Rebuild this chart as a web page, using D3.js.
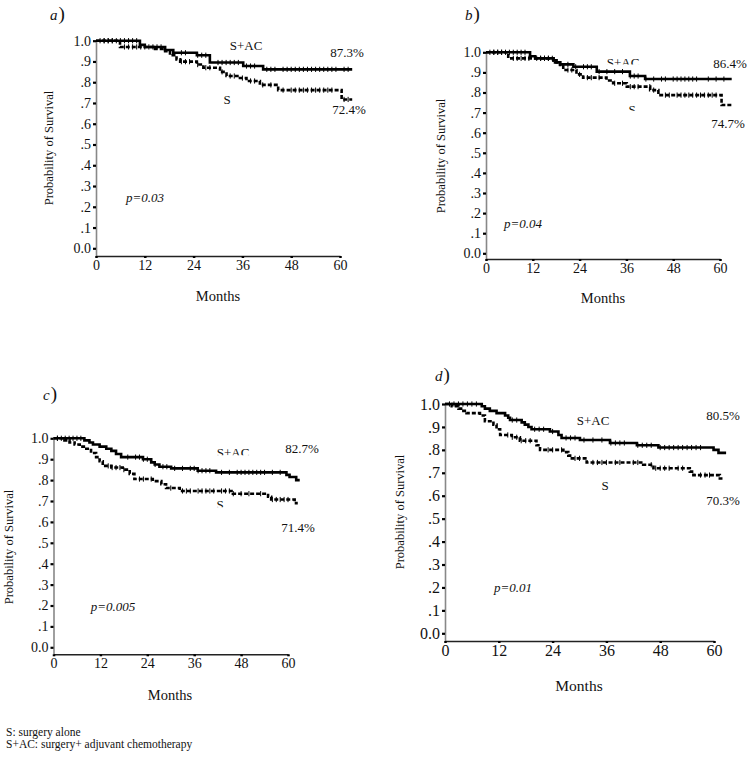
<!DOCTYPE html>
<html>
<head>
<meta http-equiv="Content-Type" content="text/html; charset=utf-8" />
<script src="https://cdn.jsdelivr.net/npm/d3@7"></script>
<title>Survival curves</title>
<style>
  body { margin: 0; background: #fff; }
  svg text { font-family: "Liberation Serif", "Times New Roman", serif !important; fill: #111; }
</style>
</head>
<body>
<svg width="751" height="758" id="mainsvg"></svg>
<script>
// ---- data (months, survival probability); step curves start at [0,1] ----
const monthTicks = [0, 12, 24, 36, 48, 60];
const survTicks = [0, .1, .2, .3, .4, .5, .6, .7, .8, .9, 1];
const survTickLabels = ["0.0", ".1", ".2", ".3", ".4", ".5", ".6", ".7", ".8", ".9", "1.0"];

const aSAC = [[0,1],[10.8,.98],[12,.97],[17,.955],[19,.942],[24.8,.93],[28,.895],[36.2,.878],[41.1,.862],[63,.862]];
const aS   = [[0,1],[5.9,.97],[14.1,.96],[17,.95],[18.2,.93],[19.8,.91],[20.7,.899],[24.8,.885],[26.4,.87],[30.5,.85],[32.1,.83],[35.4,.82],[37,.806],[40.3,.787],[44.8,.762],[60.4,.717],[63,.717]];
const aSACcens = [1,2,3,4,5,6,7,8,9,10,14,15,16,21,22,25,26,27,30,31,32,33,34,35,37,38,39,42,43,44,46,47,48,49,50,51,52,53,54,55,56,57,58,59,61,62];
const aScens   = [2,3,4,7,8,9,10,11,12,13,21,22,23,25,27,28,31,33,34,36,38,39,41,43,46,48,49,50,51,52,53,54,55,56,57,58,61,62];

const bSAC = [[0,1],[11.3,.98],[12.6,.97],[17.3,.96],[18.1,.95],[19,.94],[22.4,.928],[28.4,.904],[36.9,.882],[40.8,.867],[63,.867]];
const bS   = [[0,1],[5.7,.97],[17.3,.96],[17.7,.95],[19,.93],[19.8,.912],[23.2,.89],[24.9,.874],[30.9,.86],[32.6,.846],[36.1,.829],[42.1,.812],[44.2,.787],[60.4,.738],[63,.738]];
const bSACcens = [1,2,3,4,5,6,7,8,9,10,14,15,16,17,21,23,25,26,27,29,31,33,35,37,38,39,41,43,45,46,48,49,50,51,52,53,54,57,59,61];
const bScens   = [2,3,4,7,8,9,10,11,13,14,15,16,21,22,24,26,27,29,33,35,37,38,39,42,43,46,47,49,50,51,52,53,54,55,56,57,58,59];

const cSAC = [[0,1],[7.9,.99],[9.2,.98],[10.1,.97],[11.8,.96],[13.5,.95],[14.8,.94],[16,.925],[17.3,.91],[22.9,.9],[25,.885],[25.9,.875],[27.1,.864],[30.1,.856],[36.9,.845],[41.6,.837],[59.6,.825],[60.4,.815],[62.1,.8],[63,.8]];
const cS   = [[0,1],[2.8,.99],[4.1,.98],[5.4,.97],[6.7,.96],[8.4,.95],[9.6,.93],[10.9,.91],[11.8,.89],[12.6,.868],[14.8,.86],[17.7,.85],[19.5,.83],[20.7,.805],[25.4,.795],[27.6,.78],[28.8,.762],[32.3,.748],[45.9,.735],[54.9,.72],[55.7,.707],[61.7,.69],[62.5,.69]];
const cSACcens = [1,2,3,4,5,6,7,19,21,22,23,24,26,28,29,31,33,35,36,37,38,39,40,43,45,47,48,49,50,51,52,53,54,56,58];
const cScens   = [1,14,15,16,17,18,22,23,25,30,33,34,35,37,38,39,40,41,43,44,45,46,48,50,53,56,57,58,59,60];

const dSAC = [[0,1],[8.2,.99],[8.9,.98],[10,.97],[11.5,.96],[13.4,.95],[14.1,.94],[14.5,.93],[17.1,.92],[17.8,.91],[18.6,.9],[19.3,.89],[23.4,.88],[25.3,.865],[26,.852],[30.1,.843],[36.8,.83],[42.8,.82],[47.6,.81],[59.9,.8],[61,.787],[62.7,.787]];
const dS   = [[0,1],[1.5,.99],[3,.98],[4.1,.97],[4.8,.96],[7.8,.95],[8.9,.925],[10.8,.91],[11.5,.89],[12.3,.865],[14.9,.855],[16.7,.84],[20.4,.82],[21.2,.8],[26.4,.79],[27.5,.775],[28.3,.763],[31.6,.745],[44.2,.735],[46.5,.72],[54.6,.705],[55.4,.69],[61.3,.675],[62.1,.675]];
const dSACcens = [1,2,3,4,5,6,7,15,16,20,21,22,24,27,28,29,31,33,35,37,38,39,40,43,44,45,46,48,49,50,51,52,53,54,55,56,57];
const dScens   = [14,15,16,17,18,19,23,24,26,29,30,33,34,35,36,38,39,42,43,46,47,48,49,50,52,53,57,58,59];

const pValues = ["p=0.03", "p=0.04", "p=0.005", "p=0.01"];
const sacFinal = ["87.3%", "86.4%", "82.7%", "80.5%"];
const sFinal   = ["72.4%", "74.7%", "71.4%", "70.3%"];
const panelLetters = ["a", "b", "c", "d"];

// ---- layout of the four panels ----
const panels = [
  { sac: aSAC, s: aS, sacC: aSACcens, sC: aScens,
    x0: 96, x60: 340, y0: 248.3, y1: 40.7, axisY: 256, tickFs: 14, titleFs: 14.5,
    letter: [50, 20], ytitle: [49, 148], months: [218, 296],
    sacLab: [246, 45], sacPct: [347, 52], sLab: [227, 99], sPct: [349, 109], pLab: [145, 197] },
  { sac: bSAC, s: bS, sacC: bSACcens, sC: bScens,
    x0: 486, x60: 720, y0: 253.3, y1: 52.3, axisY: 259, tickFs: 14, titleFs: 14.5,
    letter: [465, 20], ytitle: [441, 156], months: [603, 298],
    sacLab: [623, 62, 64.5], sacPct: [730, 63], sLab: [632, 109.5, 110.8], sPct: [728, 123], pLab: [523, 223] },
  { sac: cSAC, s: cS, sacC: cSACcens, sC: cScens,
    x0: 53.5, x60: 288, y0: 647.3, y1: 438.3, axisY: 654.3, tickFs: 14, titleFs: 14.5,
    letter: [43, 400], ytitle: [9, 547], months: [170, 695],
    sacLab: [233, 452.5, 455.2], sacPct: [302, 448], sLab: [220, 504.5, 507.2], sPct: [298, 527], pLab: [113, 606] },
  { sac: dSAC, s: dS, sacC: dSACcens, sC: dScens,
    x0: 445, x60: 714, y0: 633.3, y1: 404, axisY: 641, tickFs: 16, titleFs: 15.5,
    letter: [435, 381], ytitle: [400, 512], months: [579, 686],
    sacLab: [593, 420], sacPct: [723, 415], sLab: [605, 485], sPct: [723, 500], pLab: [513, 587] }
];

const svg = d3.select("#mainsvg");
const defs = svg.append("defs");

function stepValue(curve, t) {
  let v = curve[0][1];
  for (const [m, s] of curve) { if (m <= t) v = s; }
  return v;
}

function label(g, pos, txt, size, opts = {}) {
  const t = g.append("text")
    .attr("x", pos[0]).attr("y", pos[1]).attr("dy", "0.35em")
    .attr("text-anchor", "middle").attr("font-size", size)
    .text(txt);
  if (opts.italic) t.attr("font-style", "italic");
  if (pos[2] !== undefined) {
    const id = "clip" + Math.round(pos[0]) + "_" + Math.round(pos[1]);
    defs.append("clipPath").attr("id", id)
      .append("rect").attr("x", pos[0] - 40).attr("y", pos[1] - 30)
      .attr("width", 80).attr("height", pos[2] - pos[1] + 30);
    t.attr("clip-path", `url(#${id})`);
  }
  return t;
}

panels.forEach((p, i) => {
  const g = svg.append("g");
  const x = d3.scaleLinear().domain([0, 60]).range([p.x0, p.x60]);
  const y = d3.scaleLinear().domain([0, 1]).range([p.y0, p.y1]);
  const yAx = y.copy().domain([y.invert(p.axisY), 1]).range([p.axisY, p.y1]);

  // y axis
  const ya = g.append("g").attr("transform", `translate(${p.x0},0)`)
    .call(d3.axisLeft(yAx).tickValues(survTicks)
      .tickFormat((d, k) => survTickLabels[k]).tickSize(3).tickPadding(2).tickSizeOuter(0));
  ya.select(".domain").attr("stroke", "#888").attr("stroke-width", 1.6);
  ya.selectAll(".tick line").attr("stroke", "#000").attr("stroke-width", 2.2);
  ya.selectAll(".tick text").attr("font-size", p.tickFs);

  // x axis
  const xa = g.append("g").attr("transform", `translate(0,${p.axisY})`)
    .call(d3.axisBottom(x).tickValues(monthTicks).tickSize(2).tickPadding(2).tickSizeOuter(0));
  xa.select(".domain").attr("stroke", "#222").attr("stroke-width", 1.6);
  xa.selectAll(".tick line").attr("stroke", "#000").attr("stroke-width", 2.5);
  xa.selectAll(".tick text").attr("font-size", p.tickFs);

  // curves
  const line = d3.line().x(d => x(d[0])).y(d => y(d[1])).curve(d3.curveStepAfter);
  g.append("path").datum(p.sac).attr("d", line)
    .attr("fill", "none").attr("stroke", "#000").attr("stroke-width", 2.6);
  g.append("path").datum(p.s).attr("d", line)
    .attr("fill", "none").attr("stroke", "#000").attr("stroke-width", 2.6)
    .attr("stroke-dasharray", "4,2");

  // censor marks
  const marks = [...p.sacC.map(t => [t, stepValue(p.sac, t)]), ...p.sC.map(t => [t, stepValue(p.s, t)])];
  g.selectAll(".cens").data(marks).join("line").attr("class", "cens")
    .attr("x1", d => x(d[0])).attr("x2", d => x(d[0]))
    .attr("y1", d => y(d[1]) - 2.6).attr("y2", d => y(d[1]) + 2.6)
    .attr("stroke", "#000").attr("stroke-width", 1);

  // titles
  g.append("text").attr("transform", `translate(${p.ytitle[0]},${p.ytitle[1]}) rotate(-90)`)
    .attr("dy", "0.35em").attr("text-anchor", "middle").attr("font-size", 12.5)
    .text("Probability of Survival");
  label(g, p.months, "Months", p.titleFs);

  // panel letter
  const lt = g.append("text").attr("x", p.letter[0]).attr("y", p.letter[1]);
  lt.append("tspan").attr("font-style", "italic").attr("font-size", 15).text(panelLetters[i]);
  lt.append("tspan").attr("font-size", 19).attr("dx", 1).text(")");

  // annotations
  label(g, p.sacLab, "S+AC", 13);
  label(g, p.sacPct, sacFinal[i], 13);
  label(g, p.sLab, "S", 13);
  label(g, p.sPct, sFinal[i], 13);
  label(g, p.pLab, pValues[i], 13, { italic: true });
});

// footnote
const notes = ["S: surgery alone", "S+AC: surgery+ adjuvant chemotherapy"];
svg.selectAll(".note").data(notes).join("text").attr("class", "note")
  .attr("x", 6).attr("y", (d, k) => 736 + k * 11.5)
  .attr("font-size", 11.5).text(d => d);
</script>
</body>
</html>
